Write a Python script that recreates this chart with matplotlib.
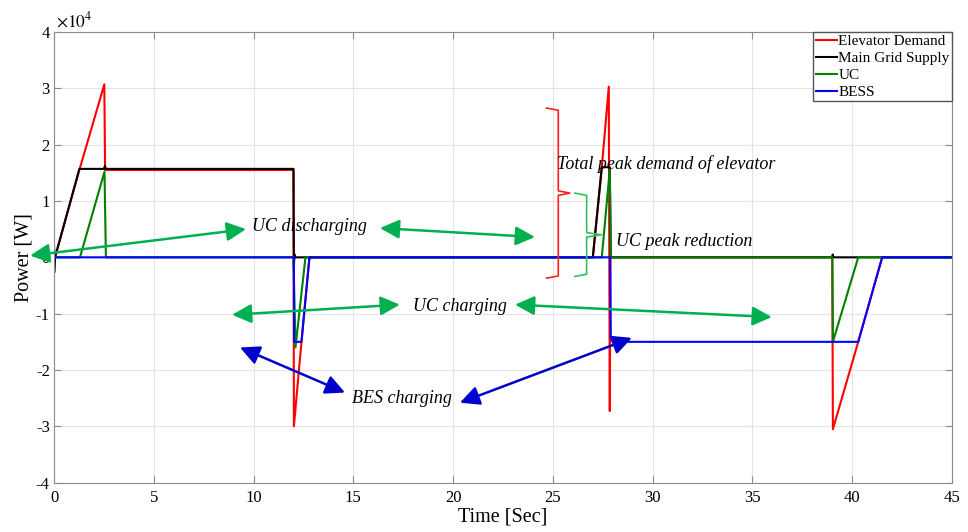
import numpy as np
import matplotlib
matplotlib.use("Agg")
import matplotlib.pyplot as plt
from matplotlib.ticker import FuncFormatter

plt.rcParams['axes.unicode_minus'] = False
plt.rcParams['mathtext.fontset'] = 'stix'

# ---- data, time in s, power in W ----
t_demand = [0, 0.05, 1.27, 2.52, 2.56, 12.0, 12.02, 12.4, 12.8, 27.0, 27.45, 27.8, 27.85, 27.88, 39.0, 39.03, 40.3, 41.5, 45]
p_demand = [0, 0, 15500, 30700, 15500, 15500, -30000, -15000, 0, 0, 16000, 30300, -27300, 0, 0, -30500, -15000, 0, 0]

t_grid = [0, 0.01, 0.05, 1.27, 2.5, 2.55, 2.6, 12.0, 12.02, 12.05, 12.08, 27.0, 27.45, 27.85, 27.9, 39.0, 39.02, 39.05, 45]
p_grid = [1500, -2700, 0, 15700, 15700, 16200, 15700, 15700, -1600, 500, 0, 0, 16000, 16000, 0, 0, 500, 0, 0]

t_uc = [0, 1.3, 2.53, 2.6, 12.0, 12.1, 12.6, 27.45, 27.85, 27.9, 39.0, 39.03, 40.3, 45]
p_uc = [0, 0, 15200, 0, 0, -16000, 0, 0, 15600, 0, 0, -15000, 0, 0]

t_bess = [0, 0.02, 12.02, 12.03, 12.4, 12.8, 27.87, 27.9, 28.0, 40.3, 41.5, 45]
p_bess = [2000, 0, 0, -15000, -15000, 0, 0, -14200, -15000, -15000, 0, 0]

labels = ["Elevator Demand", "Main Grid Supply", "UC", "BESS"]
colors = ["#ff0000", "#000000", "#008000", "#0000ff"]

fig = plt.figure(figsize=(9.68, 5.32), dpi=100)
ax = fig.add_axes([0.0558, 0.0927, 0.9277, 0.8472])

series = [(t_demand, p_demand), (t_grid, p_grid), (t_uc, p_uc), (t_bess, p_bess)]
for (t, p), lab, c in zip(series, labels, colors):
    ax.plot(t, p, color=c, lw=1.5, label=lab)

ax.set_xlim(0, 45)
ax.set_ylim(-40000, 40000)
ax.set_xticks(np.arange(0, 46, 5))
ax.set_yticks(np.arange(-40000, 40001, 10000))
ax.yaxis.set_major_formatter(FuncFormatter(lambda v, p: f"{v/1e4:g}"))
ax.grid(True, color="#e4e4e4", lw=0.8)
ax.set_axisbelow(True)
for s in ax.spines.values():
    s.set_color("#8c8c8c")
ax.tick_params(direction="in", top=True, right=True, color="#8c8c8c", length=5)
ax.tick_params(axis="x", pad=5)
ax.tick_params(axis="y", pad=3)
serif = "Liberation Serif"
for lab in ax.get_xticklabels() + ax.get_yticklabels():
    lab.set_family(serif)
    lab.set_fontsize(12)

ax.text(0.002, 1.002, r"$\times 10^4$", transform=ax.transAxes, fontsize=12.5, va="bottom", ha="left")
ax.set_xlabel("Time [Sec]", family=serif, fontsize=14.5, labelpad=1)
ax.set_ylabel("Power [W]", family=serif, fontsize=14.5, labelpad=2)

leg = ax.legend(loc="upper right", borderaxespad=0, prop={"family": serif, "size": 11},
                handlelength=1.4, handletextpad=0.1, labelspacing=0.22, borderpad=0.15,
                fancybox=False, framealpha=1)
leg.get_frame().set_edgecolor("#555555")
leg.get_frame().set_linewidth(1.0)

# ---- annotations ----
g_arrow = "#00b050"
b_arrow = "#0000cc"
ann_font = dict(family=serif, style="italic", fontsize=13)


def dbl_arrow(p1, p2, color):
    ax.annotate("", xy=p1, xytext=p2, annotation_clip=False,
                arrowprops=dict(arrowstyle="<|-|>,head_length=0.65,head_width=0.32",
                                mutation_scale=18, color=color, lw=1.8,
                                shrinkA=0, shrinkB=0))


dbl_arrow((-1.2, 300), (9.62, 5000), g_arrow)
dbl_arrow((16.33, 5200), (24.1, 3600), g_arrow)
dbl_arrow((8.92, -10200), (17.33, -8400), g_arrow)
dbl_arrow((23.1, -8400), (35.97, -10600), g_arrow)
dbl_arrow((9.32, -16000), (14.58, -24000), b_arrow)
dbl_arrow((20.34, -25800), (28.96, -14300), b_arrow)

ax.text(9.92, 5400, "UC discharging", ha="left", va="center", **ann_font)
ax.text(17.99, -8800, "UC charging", ha="left", va="center", **ann_font)
ax.text(14.93, -25100, "BES charging", ha="left", va="center", **ann_font)
ax.text(25.2, 16600, "Total peak demand of elevator", ha="left", va="center", **ann_font)
ax.text(28.16, 2800, "UC peak reduction", ha="left", va="center", **ann_font)


def brace(x0, x1, xtip, ytop, ymid, ybot, color):
    d = 400
    ax.plot([x0, x1, x1, xtip, x1, x1, x0],
            [ytop, ytop - d, ymid + d, ymid, ymid - d, ybot + d, ybot],
            color=color, lw=1.2, clip_on=False)


brace(24.68, 25.27, 25.85, 26500, 11400, -3700, "#ff2020")
brace(26.1, 26.69, 27.44, 11400, 4000, -3400, "#30c060")

fig.savefig("out.png", dpi=100)
